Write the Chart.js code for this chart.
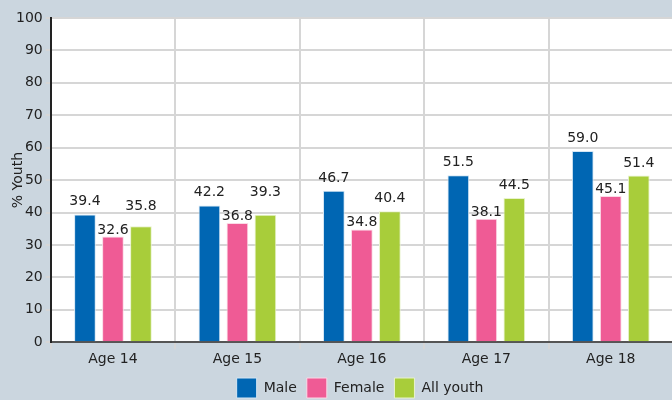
<!DOCTYPE html>
<html>
<head>
<meta charset="utf-8">
<script src="https://cdn.jsdelivr.net/npm/chart.js@4.4.0/dist/chart.umd.min.js"></script>
<style>
  html, body { margin: 0; padding: 0; background: #cbd6df; overflow: hidden; }
  #wrap { position: absolute; left: 0; top: 0; width: 720px; height: 414px; }
</style>
</head>
<body>
<div id="wrap"><canvas id="chart"></canvas></div>
<script>
const ageLabels = ['Age 14', 'Age 15', 'Age 16', 'Age 17', 'Age 18'];
const maleValues = [39.4, 42.2, 46.7, 51.5, 59.0];
const femaleValues = [32.6, 36.8, 34.8, 38.1, 45.1];
const allYouthValues = [35.8, 39.3, 40.4, 44.5, 51.4];
const seriesNames = ['Male', 'Female', 'All youth'];
const yTitle = '% Youth';

const FONT = '"DejaVu Sans", sans-serif';
const TEXT = '#222222';

// white plot area behind the bars
const plotBackground = {
    id: 'plotBackground',
    beforeDraw(chart) {
        const { ctx, chartArea: a } = chart;
        ctx.save();
        ctx.fillStyle = '#ffffff';
        ctx.fillRect(a.left, a.top, a.right - a.left, a.bottom - a.top);
        ctx.restore();
    }
};

// y title drawn by hand so it can sit close to the tick labels
const yAxisTitle = {
    id: 'yAxisTitle',
    afterDraw(chart) {
        const { ctx, chartArea: a } = chart;
        ctx.save();
        ctx.translate(18, (a.top + a.bottom) / 2);
        ctx.rotate(-Math.PI / 2);
        ctx.font = '14px ' + FONT;
        ctx.fillStyle = TEXT;
        ctx.textAlign = 'center';
        ctx.textBaseline = 'middle';
        ctx.fillText(yTitle, 0, 0);
        ctx.restore();
    }
};

// move the legend a little to the right / up
const legendShift = {
    id: 'legendShift',
    afterLayout(chart) {
        const lg = chart.legend;
        lg.left += 17; lg.right += 17;
        lg.top -= 2; lg.bottom -= 2;
    }
};

// numbers printed over each bar, nudged up when they would collide
const labelGap = [9, 3, 9];
const valueLabels = {
    id: 'valueLabels',
    afterDatasetsDraw(chart) {
        const ctx = chart.ctx;
        ctx.save();
        ctx.font = '14px ' + FONT;
        ctx.fillStyle = TEXT;
        ctx.textAlign = 'center';
        ctx.textBaseline = 'alphabetic';
        const placed = [];
        chart.data.datasets.forEach((ds, i) => {
            chart.getDatasetMeta(i).data.forEach((bar, j) => {
                const txt = ds.data[j].toFixed(1);
                const w = ctx.measureText(txt).width;
                let y = bar.y - labelGap[i];
                placed.forEach(p => {
                    if (p.col === j && Math.abs(p.x - bar.x) < (p.w + w) / 2 && y < p.y && p.y - y < 24) {
                        y = p.y - 24;
                    }
                });
                placed.push({ col: j, x: bar.x, y: y, w: w });
                ctx.fillText(txt, bar.x, y);
            });
        });
        ctx.restore();
    }
};

new Chart(document.getElementById('chart'), {
    type: 'bar',
    data: {
        labels: ageLabels,
        datasets: [
            { label: seriesNames[0], data: maleValues, backgroundColor: '#0066b3', borderColor: '#d4e6f4', borderWidth: 1 },
            { label: seriesNames[1], data: femaleValues, backgroundColor: '#ef5b95', borderColor: '#fbd9e6', borderWidth: 1 },
            { label: seriesNames[2], data: allYouthValues, backgroundColor: '#a8cd3a', borderColor: '#e8f3cc', borderWidth: 1 }
        ]
    },
    options: {
        responsive: true,
        maintainAspectRatio: false,
        animation: false,
        categoryPercentage: 0.675,
        barPercentage: 0.775,
        layout: { padding: { top: 18, right: 47, left: 13, bottom: 4 } },
        scales: {
            x: {
                grid: { offset: true, color: '#d6d6d6', lineWidth: 2, tickLength: 7 },
                border: { color: '#555555', width: 2 },
                ticks: { color: TEXT, font: { family: FONT, size: 14 }, padding: 2 }
            },
            y: {
                min: 0,
                max: 100,
                grid: { color: '#d6d6d6', lineWidth: 2, tickLength: 5 },
                border: { color: '#222222', width: 2 },
                ticks: { stepSize: 10, color: TEXT, font: { family: FONT, size: 14 }, padding: 3 }
            }
        },
        plugins: {
            legend: {
                position: 'bottom',
                labels: {
                    color: TEXT,
                    font: { family: FONT, size: 14 },
                    boxWidth: 20,
                    boxHeight: 20,
                    padding: 10
                }
            },
            tooltip: { enabled: false }
        }
    },
    plugins: [plotBackground, yAxisTitle, legendShift, valueLabels]
});
</script>
</body>
</html>
